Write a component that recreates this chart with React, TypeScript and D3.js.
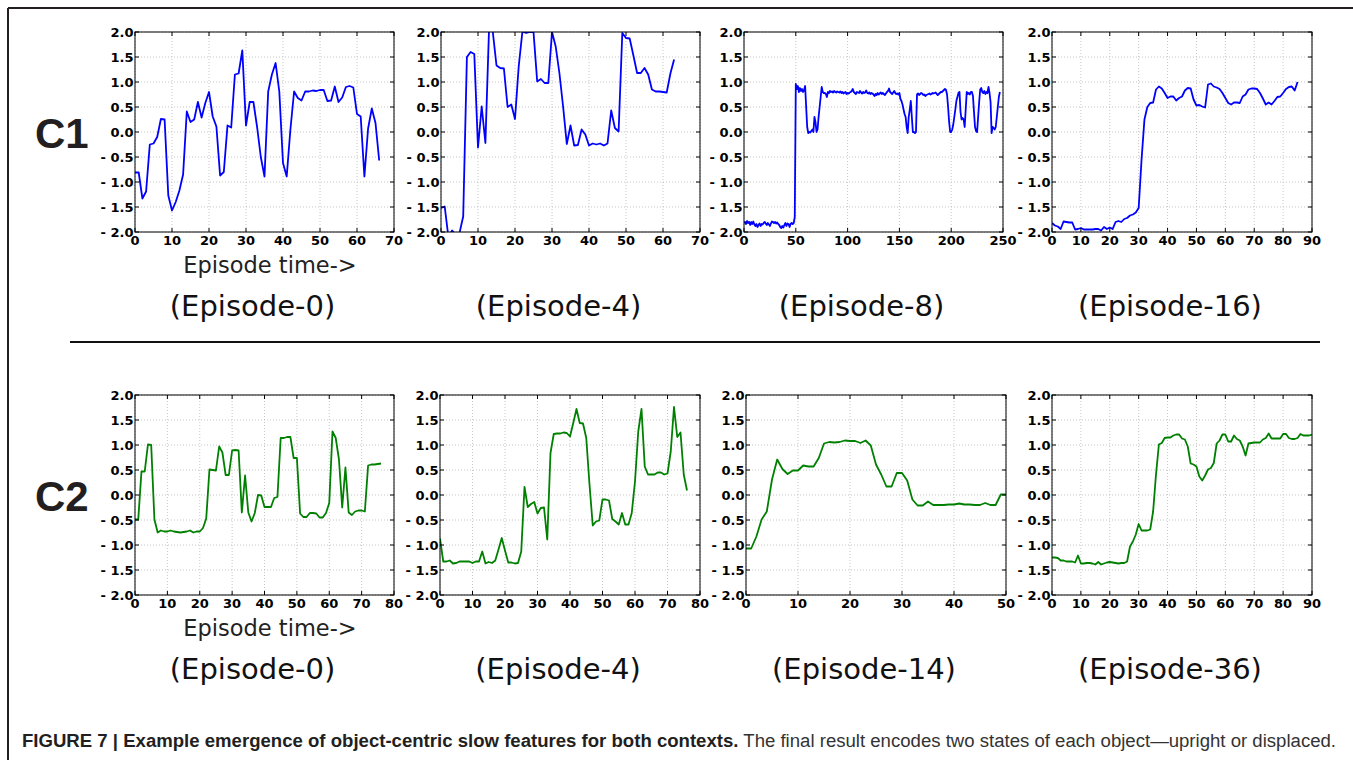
import React from 'react'
import * as d3 from 'd3'

// slow feature output per episode (x = time step index)
const c1Ep0 = [
  -0.81, -0.81, -1.33, -1.19, -0.25, -0.23, -0.1, 0.26, 0.25, -1.27,
  -1.57, -1.4, -1.17, -0.85, 0.41, 0.2, 0.25, 0.6, 0.29, 0.58,
  0.8, 0.31, 0.11, -0.87, -0.8, 0.13, 0.09, 1.15, 1.17, 1.63,
  0.13, 0.6, 0.6, 0.1, -0.5, -0.89, 0.81, 1.15, 1.38, 0.81,
  -0.62, -0.89, 0.05, 0.81, 0.68, 0.63, 0.81, 0.81, 0.83, 0.82,
  0.84, 0.84, 0.62, 0.63, 0.91, 0.6, 0.69, 0.9, 0.92, 0.89,
  0.36, 0.31, -0.89, 0.07, 0.47, 0.18, -0.57,
]
const c1Ep4 = [
  -1.52, -1.49, -2.1, -1.97, -2.05, -2.02, -1.69, 1.5, 1.6, 1.56,
  -0.31, 0.51, -0.22, 2.1, 2.0, 1.33, 1.28, 1.27, 0.5, 0.55,
  0.26, 1.31, 2.01, 1.98, 2.0, 2.0, 1.01, 1.06, 0.98, 0.98,
  2.0, 1.71, 1.18, 0.51, -0.24, 0.13, -0.27, -0.26, 0.05, -0.05,
  -0.27, -0.23, -0.25, -0.23, -0.27, -0.23, 0.43, 0.08, 0.01, 1.98,
  1.88, 1.87, 1.53, 1.18, 1.18, 1.28, 1.15, 0.85, 0.81, 0.81,
  0.8, 0.79, 1.17, 1.45,
]
const c1Ep8 = [
  -1.82, -1.8, -1.84, -1.78, -1.82, -1.8, -1.86, -1.8, -1.84, -1.79,
  -1.85, -1.88, -1.84, -1.9, -1.86, -1.83, -1.88, -1.84, -1.85, -1.82,
  -1.8, -1.83, -1.86, -1.82, -1.85, -1.88, -1.83, -1.79, -1.8, -1.82,
  -1.8, -1.83, -1.81, -1.84, -1.86, -1.9, -1.92, -1.88, -1.91, -1.86,
  -1.82, -1.88, -1.83, -1.84, -1.9, -1.84, -1.82, -1.84, -1.82, -1.7,
  0.96, 0.86, 0.92, 0.8, 0.88, 0.82, 0.86, 0.8, 0.84, 0.92,
  0.5, 0.1, -0.02, 0.0, -0.01, 0.02, 0.05, 0.0, 0.3, 0.2,
  0.0, 0.05, 0.3, 0.5, 0.7, 0.9, 0.8, 0.78, 0.78, 0.76,
  0.7, 0.8, 0.78, 0.82, 0.8, 0.81, 0.79, 0.82, 0.8, 0.79,
  0.81, 0.8, 0.79, 0.81, 0.78, 0.8, 0.77, 0.79, 0.8, 0.76,
  0.78, 0.77, 0.79, 0.8, 0.82, 0.86, 0.8, 0.78, 0.76, 0.8,
  0.79, 0.78, 0.82, 0.79, 0.77, 0.8, 0.78, 0.79, 0.83, 0.78,
  0.77, 0.79, 0.76, 0.78, 0.77, 0.75, 0.72, 0.76, 0.74, 0.78,
  0.75, 0.77, 0.79, 0.76, 0.78, 0.76, 0.74, 0.77, 0.8, 0.82,
  0.87, 0.8, 0.78, 0.76, 0.79, 0.82, 0.78, 0.76, 0.77, 0.75,
  0.78, 0.66, 0.62, 0.55, 0.45, 0.36, 0.3, 0.1, -0.02, 0.3,
  0.45, 0.62, 0.3, 0.0, 0.0, -0.02, 0.0, 0.75, 0.77, 0.74,
  0.76, 0.78, 0.77, 0.74, 0.75, 0.72, 0.74, 0.75, 0.76, 0.77,
  0.75, 0.76, 0.78, 0.77, 0.78, 0.79, 0.76, 0.74, 0.76, 0.78,
  0.8, 0.8, 0.82, 0.84, 0.86, 0.84, 0.75, 0.5, 0.2, 0.0,
  0.0, 0.05, 0.15, 0.3, 0.45, 0.62, 0.7, 0.78, 0.8, 0.4,
  0.25, 0.28, 0.25, 0.1, 0.45, 0.8, 0.76, 0.78, 0.75, 0.8,
  0.8, 0.72, 0.4, 0.1, 0.02, 0.0, 0.3, 0.6, 0.85, 0.88,
  0.8, 0.78, 0.82, 0.76, 0.8, 0.78, 0.9, 0.78, 0.6, -0.02,
  0.1, 0.08, 0.05, 0.1, 0.3, 0.5, 0.7, 0.8,
]
const c1Ep16 = [
  -1.82, -1.87, -1.89, -1.94, -1.79, -1.8, -1.81, -1.81, -1.95, -1.94,
  -1.92, -1.95, -1.95, -1.95, -1.95, -1.94, -1.94, -1.97, -1.9, -1.94,
  -1.91, -1.94, -1.8, -1.78, -1.8, -1.74, -1.72, -1.67, -1.65, -1.61,
  -1.52, -0.55, 0.25, 0.5, 0.58, 0.59, 0.85, 0.91, 0.87, 0.78,
  0.68, 0.71, 0.71, 0.63, 0.68, 0.71, 0.83, 0.88, 0.87, 0.65,
  0.53, 0.54, 0.51, 0.49, 0.95, 0.97, 0.91, 0.89, 0.86, 0.78,
  0.68, 0.58, 0.55, 0.59, 0.59, 0.58, 0.71, 0.75, 0.85, 0.87,
  0.87, 0.86, 0.78, 0.67, 0.55, 0.59, 0.55, 0.62, 0.7, 0.71,
  0.78, 0.86, 0.9, 0.91, 0.83, 1.0,
]
const c2Ep0 = [
  -0.49, -0.49, 0.47, 0.47, 1.01, 1.0, -0.49, -0.75, -0.71, -0.73,
  -0.73, -0.71, -0.73, -0.74, -0.75, -0.74, -0.73, -0.71, -0.75, -0.73,
  -0.73, -0.66, -0.47, 0.51, 0.5, 0.49, 0.97, 0.85, 0.4, 0.4,
  0.89, 0.9, 0.89, -0.35, 0.39, -0.35, -0.53, -0.36, 0.0, -0.01,
  -0.24, -0.24, -0.24, -0.06, -0.04, 1.14, 1.14, 1.16, 1.16, 0.74,
  0.74, -0.37, -0.44, -0.44, -0.36, -0.36, -0.37, -0.45, -0.45, -0.36,
  -0.16, 1.27, 1.14, 0.71, -0.25, 0.55, -0.35, -0.4, -0.33, -0.31,
  -0.31, -0.33, 0.59, 0.61, 0.61, 0.62, 0.63,
]
const c2Ep4 = [
  -0.87, -1.33, -1.33, -1.31, -1.37, -1.36, -1.33, -1.33, -1.33, -1.33,
  -1.36, -1.33, -1.33, -1.13, -1.37, -1.34, -1.36, -1.31, -1.09, -0.86,
  -1.11, -1.35, -1.35, -1.37, -1.36, -1.13, 0.16, -0.24, -0.18, -0.14,
  -0.37, -0.26, -0.25, -0.89, 0.84, 1.22, 1.23, 1.23, 1.25, 1.24,
  1.17, 1.44, 1.72, 1.44, 1.43, 1.14, 0.21, -0.61, -0.53, -0.51,
  -0.09, -0.09, -0.11, -0.48, -0.53, -0.59, -0.36, -0.59, -0.59, -0.36,
  0.27, 1.27, 1.72, 0.57, 0.41, 0.41, 0.41, 0.45, 0.45, 0.41,
  0.43, 0.87, 1.76, 1.16, 1.25, 0.41, 0.09,
]
const c2Ep14 = [
  -1.07, -1.07, -0.83, -0.49, -0.33, 0.31, 0.71, 0.52, 0.42, 0.49,
  0.49, 0.59, 0.57, 0.57, 0.74, 1.03, 1.06, 1.05, 1.06, 1.09,
  1.08, 1.08, 1.04, 1.09, 0.99, 0.61, 0.41, 0.17, 0.17, 0.44,
  0.44, 0.29, -0.09, -0.21, -0.21, -0.13, -0.2, -0.2, -0.2, -0.19,
  -0.19, -0.17, -0.19, -0.19, -0.2, -0.2, -0.16, -0.2, -0.2, 0.01,
  0.01,
]
const c2Ep36 = [
  -1.25, -1.25, -1.26, -1.31, -1.31, -1.33, -1.33, -1.33, -1.35, -1.21,
  -1.37, -1.37, -1.36, -1.36, -1.37, -1.39, -1.34, -1.39, -1.37, -1.35,
  -1.34, -1.35, -1.36, -1.37, -1.36, -1.36, -1.33, -1.03, -0.93, -0.79,
  -0.58, -0.71, -0.71, -0.71, -0.69, -0.33, 0.41, 1.01, 1.04, 1.14,
  1.15, 1.15, 1.19, 1.21, 1.21, 1.13, 1.11, 0.97, 0.63, 0.61,
  0.57, 0.37, 0.29, 0.39, 0.51, 0.54, 0.64, 1.03, 1.09, 1.21,
  1.21, 1.07, 1.07, 1.19, 1.12, 1.09, 0.97, 0.79, 1.03, 1.04,
  1.05, 1.05, 1.05, 1.11, 1.14, 1.23, 1.13, 1.13, 1.13, 1.13,
  1.22, 1.22, 1.14, 1.12, 1.12, 1.14, 1.22, 1.19, 1.19, 1.19,
  1.21,
]

const yTicks = [-2, -1.5, -1, -0.5, 0, 0.5, 1, 1.5, 2]
const xMaxC1 = [70, 70, 250, 90]
const xStepC1 = [10, 10, 50, 10]
const xMaxC2 = [80, 80, 50, 90]
const xStepC2 = [10, 10, 10, 10]
const titlesC1 = ['(Episode-0)', '(Episode-4)', '(Episode-8)', '(Episode-16)']
const titlesC2 = ['(Episode-0)', '(Episode-4)', '(Episode-14)', '(Episode-36)']
const rowLabels = ['C1', 'C2']
const caption =
  'FIGURE 7 | Example emergence of object-centric slow features for both contexts.'
const captionRest =
  ' The final result encodes two states of each object\u2014upright or displaced.'

const seriesC1 = [c1Ep0, c1Ep4, c1Ep8, c1Ep16]
const seriesC2 = [c2Ep0, c2Ep4, c2Ep14, c2Ep36]

// layout
const rowTop = [32, 395]
const plotH = 200
const colsC1 = [[135, 394], [441, 700], [744, 1003], [1052, 1312]]
const colsC2 = [[135, 394], [440, 700], [746, 1006], [1052, 1312]]
const tickFont = "'DejaVu Sans', sans-serif"

function fmt(v: number) {
  const s = Math.abs(v).toFixed(1)
  return v < 0 ? '- ' + s : s
}

function Panel({ id, x0, x1, top, data, xMax, xStep, color }: any) {
  const x = d3.scaleLinear().domain([0, xMax]).range([x0, x1])
  const y = d3.scaleLinear().domain([-2, 2]).range([top + plotH, top])
  const xTicks = d3.range(0, xMax + 0.001, xStep)
  const line = d3
    .line<number>()
    .x((d, i) => x(i))
    .y((d) => y(d))
  return (
    <g>
      <clipPath id={id}>
        <rect x={x0} y={top} width={x1 - x0} height={plotH} />
      </clipPath>
      {/* grid */}
      {xTicks.map((t) => (
        <line key={'gx' + t} x1={x(t)} x2={x(t)} y1={top} y2={top + plotH}
          stroke="#b8b8b8" strokeWidth={0.8} strokeDasharray="1,2" />
      ))}
      {yTicks.map((t) => (
        <line key={'gy' + t} x1={x0} x2={x1} y1={y(t)} y2={y(t)}
          stroke="#b8b8b8" strokeWidth={0.8} strokeDasharray="1,2" />
      ))}
      <path d={line(data) || ''} fill="none" stroke={color} strokeWidth={1.8}
        strokeLinejoin="round" clipPath={`url(#${id})`} />
      <rect x={x0} y={top} width={x1 - x0} height={plotH} fill="none" stroke="#000" strokeWidth={1} />
      {/* inward ticks */}
      {yTicks.map((t) => (
        <g key={'ty' + t}>
          <line x1={x0} x2={x0 + 4} y1={y(t)} y2={y(t)} stroke="#000" />
          <line x1={x1} x2={x1 - 4} y1={y(t)} y2={y(t)} stroke="#000" />
          <text x={x0 - 1.5} y={y(t) + 4.8} textAnchor="end" fontFamily={tickFont}
            fontWeight="bold" fontSize={13} fill="#000">{fmt(t)}</text>
        </g>
      ))}
      {xTicks.map((t) => (
        <g key={'tx' + t}>
          <line x1={x(t)} x2={x(t)} y1={top + plotH} y2={top + plotH - 4} stroke="#000" />
          <line x1={x(t)} x2={x(t)} y1={top} y2={top + 4} stroke="#000" />
          <text x={x(t)} y={top + plotH + 13} textAnchor="middle" fontFamily={tickFont}
            fontWeight="bold" fontSize={13} fill="#000">{t}</text>
        </g>
      ))}
    </g>
  )
}

export default function App() {
  const rows = [
    { cols: colsC1, series: seriesC1, xMax: xMaxC1, xStep: xStepC1, titles: titlesC1, color: '#0000ff' },
    { cols: colsC2, series: seriesC2, xMax: xMaxC2, xStep: xStepC2, titles: titlesC2, color: '#008000' },
  ]
  return (
    <svg width={1353} height={760} style={{ position: 'absolute', left: 0, top: 0, background: '#fff' }}>
      <rect x={0} y={0} width={1353} height={760} fill="#fff" />
      <line x1={8} x2={1353} y1={8} y2={8} stroke="#231f20" strokeWidth={2} />
      <line x1={8} x2={8} y1={8} y2={760} stroke="#231f20" strokeWidth={2} />
      {rows.map((r, ri) => {
        const top = rowTop[ri]
        return (
          <g key={ri}>
            <text x={35} y={top + 116} fontFamily="'Liberation Sans', Arial, sans-serif"
              fontWeight="bold" fontSize={42} fill="#231f20">{rowLabels[ri]}</text>
            {r.cols.map((c, ci) => (
              <Panel key={ci} id={`clip-${ri}-${ci}`} x0={c[0]} x1={c[1]} top={top}
                data={r.series[ci]} xMax={r.xMax[ci]} xStep={r.xStep[ci]} color={r.color} />
            ))}
            <text x={270} y={top + 241} textAnchor="middle" fontFamily={tickFont}
              fontSize={22.5} fill="#222">Episode time-&gt;</text>
            {r.cols.map((c, ci) => (
              <text key={'t' + ci} x={(c[0] + c[1]) / 2 - 12} y={top + 284} textAnchor="middle"
                fontFamily={tickFont} fontSize={29} fill="#111">{r.titles[ci]}</text>
            ))}
          </g>
        )
      })}
      <line x1={70} x2={1320} y1={342} y2={342} stroke="#111" strokeWidth={2} />
      <text x={22} y={747} fontFamily="'Liberation Sans', Arial, sans-serif" fontSize={18}
        textLength={1314} lengthAdjust="spacingAndGlyphs">
        <tspan fontWeight="bold" fill="#231f20">{caption}</tspan>
        <tspan fill="#333">{captionRest}</tspan>
      </text>
    </svg>
  )
}
